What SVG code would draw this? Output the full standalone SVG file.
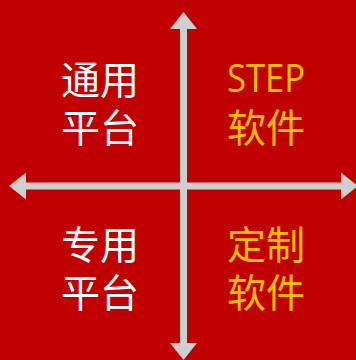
<svg xmlns="http://www.w3.org/2000/svg" width="356" height="360" viewBox="0 0 356 360">
  <style>
    .cn { font-family: "Noto Sans CJK SC", "Noto Sans", sans-serif; font-size: 39px; text-anchor: middle; }
    .en { font-family: "Open Sans", "Liberation Sans", sans-serif; font-size: 38px; text-anchor: middle; }
    .w { fill: #FFFFFF; }
    .y { fill: #FFC000; }
    .axis { stroke: #CFCFCF; stroke-width: 7; fill: none; marker-start: url(#ah); marker-end: url(#ah); }
  </style>
  <defs>
    <marker id="ah" markerUnits="userSpaceOnUse" markerWidth="18" markerHeight="28" viewBox="0 -14 18 28" refX="0" refY="0" orient="auto-start-reverse" overflow="visible">
      <path d="M0,-13.5 L17,0 L0,13.5 Z" fill="#CFCFCF"/>
    </marker>
  </defs>
  <rect x="0" y="0" width="356" height="360" fill="#C00000"/>
  <g id="connectors">
    <path class="axis" d="M183.5,343 L183.5,29"/>
    <path class="axis" d="M26,186 L341,186"/>
  </g>
  <g id="general-platform">
    <text class="cn w" x="100" y="94">通用</text>
    <text class="cn w" x="100" y="142">平台</text>
  </g>
  <g id="step-software">
    <text class="en y" x="266" y="92" textLength="78" lengthAdjust="spacingAndGlyphs">STEP</text>
    <text class="cn y" x="266" y="142">软件</text>
  </g>
  <g id="dedicated-platform">
    <text class="cn w" x="100" y="259">专用</text>
    <text class="cn w" x="100" y="307">平台</text>
  </g>
  <g id="custom-software">
    <text class="cn y" x="266" y="259">定制</text>
    <text class="cn y" x="266" y="307">软件</text>
  </g>
</svg>
